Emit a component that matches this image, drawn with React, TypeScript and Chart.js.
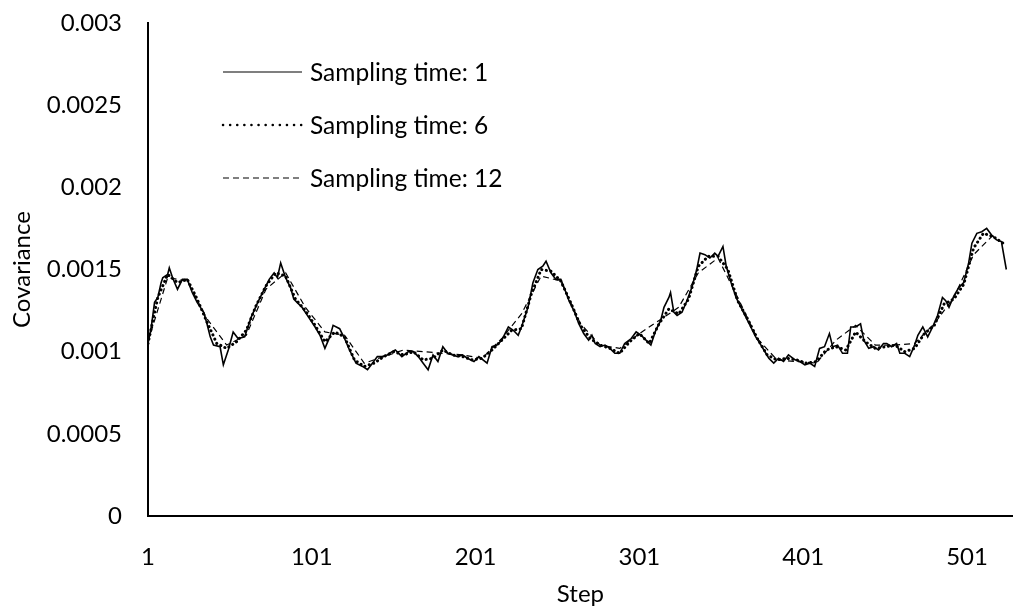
import React, { useEffect, useRef } from "react";
import { Chart, registerables } from "chart.js";

Chart.register(...registerables);

// ---- data ----
const xTickSteps = [1, 101, 201, 301, 401, 501];
const seriesLabels = ["Sampling time: 1", "Sampling time: 6", "Sampling time: 12"];
const sampleIntervals = [1, 6, 12];

// Sampling time 1 (read at irregular steps along the curve)
const solidSteps = [
  1, 3, 5, 7, 9, 10, 13, 14, 16, 19, 22, 25, 28, 31, 35, 37, 39, 41, 45, 47,
  50, 53, 56, 60, 64, 68, 72, 75, 78, 80, 82, 85, 88, 90, 92, 95, 99, 103, 106, 109,
  112, 114, 118, 121, 124, 128, 132, 135, 138, 141, 144, 147, 150, 152, 156, 160, 163, 166, 169, 172,
  175, 178, 181, 184, 187, 190, 193, 196, 200, 203, 208, 211, 214, 217, 221, 224, 227, 229, 233, 236,
  239, 242, 244, 247, 250, 253, 255, 258, 261, 264, 267, 270, 272, 274, 277, 280, 283, 286, 289, 292,
  296, 299, 302, 305, 308, 311, 314, 316, 319, 320, 322, 324, 327, 330, 333, 336, 338, 341, 344, 347,
  349, 352, 354, 357, 360, 363, 366, 369, 372, 374, 377, 380, 383, 386, 389, 392, 396, 399, 402, 405,
  408, 411, 414, 417, 419, 422, 425, 428, 430, 433, 436, 438, 441, 444, 447, 450, 452, 455, 458, 460,
  463, 466, 469, 471, 474, 477, 480, 483, 486, 488, 490, 493, 496, 499, 502, 504, 507, 510, 513, 516,
  519, 522, 525,
];
const solidValues = [
  10.5e-4, 11.5e-4, 13.0e-4, 13.3e-4, 14.2e-4, 14.5e-4, 14.7e-4, 15.1e-4, 14.5e-4, 13.8e-4, 14.4e-4, 14.4e-4, 13.6e-4, 13.0e-4, 12.4e-4, 11.7e-4, 10.9e-4, 10.4e-4, 10.3e-4, 9.2e-4,
  10.1e-4, 11.2e-4, 10.8e-4, 10.9e-4, 12.1e-4, 13.0e-4, 13.8e-4, 14.4e-4, 14.8e-4, 14.5e-4, 15.4e-4, 14.5e-4, 13.9e-4, 13.2e-4, 13.0e-4, 12.7e-4, 12.1e-4, 11.5e-4, 11.0e-4, 10.2e-4,
  10.9e-4, 11.6e-4, 11.4e-4, 10.8e-4, 10.1e-4, 9.3e-4, 9.1e-4, 8.9e-4, 9.3e-4, 9.7e-4, 9.7e-4, 9.8e-4, 10.0e-4, 10.1e-4, 9.7e-4, 10.0e-4, 10.0e-4, 9.7e-4, 9.3e-4, 8.9e-4,
  9.8e-4, 9.4e-4, 10.3e-4, 9.9e-4, 9.8e-4, 9.7e-4, 9.8e-4, 9.6e-4, 9.4e-4, 9.7e-4, 9.3e-4, 10.3e-4, 10.4e-4, 10.7e-4, 11.5e-4, 11.3e-4, 11.0e-4, 11.5e-4, 12.7e-4, 14.2e-4,
  15.0e-4, 15.2e-4, 15.5e-4, 14.8e-4, 14.4e-4, 14.4e-4, 13.9e-4, 13.1e-4, 12.5e-4, 11.7e-4, 11.1e-4, 10.7e-4, 11.0e-4, 10.5e-4, 10.3e-4, 10.4e-4, 10.2e-4, 9.9e-4, 9.9e-4, 10.5e-4,
  10.8e-4, 11.2e-4, 11.0e-4, 10.7e-4, 10.4e-4, 11.3e-4, 11.9e-4, 12.7e-4, 13.3e-4, 13.6e-4, 12.4e-4, 12.2e-4, 12.4e-4, 13.1e-4, 13.9e-4, 15.0e-4, 16.0e-4, 15.9e-4, 15.7e-4, 16.0e-4,
  15.8e-4, 16.4e-4, 15.2e-4, 14.2e-4, 13.3e-4, 12.7e-4, 12.1e-4, 11.5e-4, 10.9e-4, 10.6e-4, 10.1e-4, 9.6e-4, 9.3e-4, 9.6e-4, 9.4e-4, 9.8e-4, 9.5e-4, 9.4e-4, 9.2e-4, 9.3e-4,
  9.1e-4, 10.2e-4, 10.3e-4, 11.1e-4, 10.3e-4, 10.4e-4, 9.9e-4, 9.9e-4, 11.5e-4, 11.5e-4, 11.7e-4, 10.7e-4, 10.2e-4, 10.3e-4, 10.1e-4, 10.5e-4, 10.5e-4, 10.3e-4, 10.5e-4, 9.9e-4,
  9.9e-4, 9.7e-4, 10.4e-4, 11.0e-4, 11.5e-4, 10.9e-4, 11.5e-4, 12.2e-4, 13.3e-4, 13.1e-4, 12.7e-4, 13.4e-4, 13.9e-4, 14.2e-4, 15.4e-4, 16.6e-4, 17.2e-4, 17.3e-4, 17.5e-4, 17.1e-4,
  16.8e-4, 16.7e-4, 15.0e-4,
];

// Sampling time 6 (steps 1, 7, 13, ...)
const dottedValues = [
  10.5e-4, 13.3e-4, 14.7e-4, 14.2e-4, 14.4e-4, 13.2e-4, 11.8e-4, 10.5e-4, 10.2e-4, 10.6e-4,
  11.3e-4, 12.8e-4, 14.0e-4, 14.8e-4, 14.6e-4, 13.2e-4, 12.5e-4, 11.6e-4, 10.6e-4, 11.2e-4,
  10.9e-4, 9.5e-4, 9.1e-4, 9.3e-4, 9.7e-4, 10.0e-4, 9.8e-4, 10.0e-4, 9.5e-4, 9.6e-4,
  10.1e-4, 9.8e-4, 9.7e-4, 9.5e-4, 9.6e-4, 10.1e-4, 10.7e-4, 11.3e-4, 11.4e-4, 13.5e-4,
  15.0e-4, 14.9e-4, 14.3e-4, 13.0e-4, 11.6e-4, 10.8e-4, 10.4e-4, 10.2e-4, 9.9e-4, 10.6e-4,
  11.1e-4, 10.5e-4, 11.7e-4, 12.6e-4, 12.3e-4, 13.2e-4, 15.2e-4, 15.8e-4, 15.8e-4, 15.0e-4,
  13.1e-4, 12.0e-4, 10.8e-4, 9.8e-4, 9.5e-4, 9.6e-4, 9.5e-4, 9.3e-4, 9.4e-4, 10.1e-4,
  10.3e-4, 10.1e-4, 11.2e-4, 10.6e-4, 10.2e-4, 10.3e-4, 10.4e-4, 10.0e-4, 10.2e-4, 11.1e-4,
  11.6e-4, 12.9e-4, 13.2e-4, 14.1e-4, 16.3e-4, 17.2e-4, 17.0e-4, 16.6e-4,
];

// Sampling time 12 (steps 1, 13, 25, ...)
const dashedValues = [
  10.6e-4, 14.5e-4, 14.3e-4, 12.0e-4, 10.4e-4, 11.0e-4, 13.8e-4, 14.8e-4, 12.7e-4, 11.2e-4,
  11.0e-4, 9.3e-4, 9.7e-4, 10.1e-4, 10.0e-4, 9.9e-4, 9.8e-4, 9.6e-4, 10.8e-4, 12.3e-4,
  14.6e-4, 14.3e-4, 11.7e-4, 10.4e-4, 10.2e-4, 11.1e-4, 11.9e-4, 12.7e-4, 14.8e-4, 15.7e-4,
  13.3e-4, 10.8e-4, 9.5e-4, 9.4e-4, 9.3e-4, 10.7e-4, 11.6e-4, 10.4e-4, 10.4e-4, 10.5e-4,
  11.7e-4, 13.3e-4, 15.9e-4, 17.1e-4,
];

const FONT = "Lato, 'Open Sans', sans-serif";

const inlineLegend = {
  id: "inlineLegend",
  afterDraw(chart: any) {
    const { ctx, chartArea } = chart;
    chart.data.datasets.forEach((ds: any, i: number) => {
      const y = chartArea.top + 49 + i * 53;
      const x0 = chartArea.left + 75;
      const x1 = chartArea.left + 154;
      ctx.save();
      ctx.strokeStyle = "#000";
      ctx.lineWidth = ds.legendLineWidth;
      ctx.setLineDash(ds.legendDash);
      ctx.lineCap = ds.legendCap;
      ctx.beginPath();
      ctx.moveTo(x0, y);
      ctx.lineTo(x1, y);
      ctx.stroke();
      ctx.setLineDash([]);
      ctx.fillStyle = "#000";
      ctx.font = `24.5px ${FONT}`;
      ctx.textBaseline = "middle";
      ctx.textAlign = "left";
      ctx.fillText(ds.label, x1 + 8, y + 1);
      ctx.restore();
    });
  },
};

export default function App() {
  const ref = useRef<HTMLCanvasElement | null>(null);

  useEffect(() => {
    document.body.style.margin = "0";
    const canvas = ref.current!;
    const solidData = solidSteps.map((s, i) => ({ x: s, y: solidValues[i] }));
    const dottedData = dottedValues.map((v, i) => ({ x: 1 + i * sampleIntervals[1], y: v }));
    const dashedData = dashedValues.map((v, i) => ({ x: 1 + i * sampleIntervals[2], y: v }));

    const chart = new Chart(canvas, {
      type: "line",
      data: {
        datasets: [
          {
            label: seriesLabels[0],
            data: solidData,
            borderColor: "#000",
            borderWidth: 1.6,
            pointRadius: 0,
            tension: 0,
            fill: false,
            legendLineWidth: 1.2,
            legendDash: [],
            legendCap: "butt",
          } as any,
          {
            label: seriesLabels[1],
            data: dottedData,
            borderColor: "#000",
            borderWidth: 3,
            borderDash: [0.1, 4.5],
            borderCapStyle: "round",
            pointRadius: 0,
            tension: 0,
            fill: false,
            legendLineWidth: 2.5,
            legendDash: [0.1, 7],
            legendCap: "round",
          } as any,
          {
            label: seriesLabels[2],
            data: dashedData,
            borderColor: "#000",
            borderWidth: 1.2,
            borderDash: [6, 4],
            pointRadius: 0,
            tension: 0,
            fill: false,
            legendLineWidth: 1.2,
            legendDash: [6, 4],
            legendCap: "butt",
          } as any,
        ],
      },
      options: {
        responsive: false,
        animation: false,
        events: [],
        layout: { padding: { top: 23, right: 2, left: 0, bottom: 0 } },
        plugins: {
          legend: { display: false },
          tooltip: { enabled: false },
        },
        scales: {
          x: {
            type: "linear",
            min: 1,
            max: 529,
            afterFit: (scale: any) => {
              scale.height = 98;
            },
            afterBuildTicks: (scale: any) => {
              scale.ticks = xTickSteps.map((v) => ({ value: v }));
            },
            grid: { display: false, drawTicks: false },
            border: { display: true, color: "#000", width: 2 },
            ticks: {
              padding: 27,
              color: "#000",
              font: { family: FONT, size: 24 },
              maxRotation: 0,
              autoSkip: false,
              callback: (v: any) => String(v),
            },
            title: {
              display: true,
              text: "Step",
              color: "#000",
              font: { family: FONT, size: 24 },
              padding: { top: 0, bottom: 5 },
            },
          },
          y: {
            min: 0,
            max: 0.003,
            afterFit: (scale: any) => {
              scale.width = 148;
              scale.paddingTop = 0;
              scale.paddingBottom = 0;
            },
            grid: { display: false, drawTicks: false },
            border: { display: true, color: "#000", width: 2 },
            ticks: {
              stepSize: 0.0005,
              padding: 26,
              color: "#000",
              font: { family: FONT, size: 24 },
              callback: (v: any) => String(Number(Number(v).toPrecision(6))),
            },
            title: {
              display: true,
              text: "Covariance",
              color: "#000",
              font: { family: FONT, size: 24 },
              padding: { top: 8, bottom: 0 },
            },
          },
        },
      },
      plugins: [inlineLegend],
    });
    return () => chart.destroy();
  }, []);

  return (
    <div style={{ width: 1015, height: 614 }}>
      <canvas ref={ref} width={1015} height={614} style={{ display: "block" }} />
    </div>
  );
}
